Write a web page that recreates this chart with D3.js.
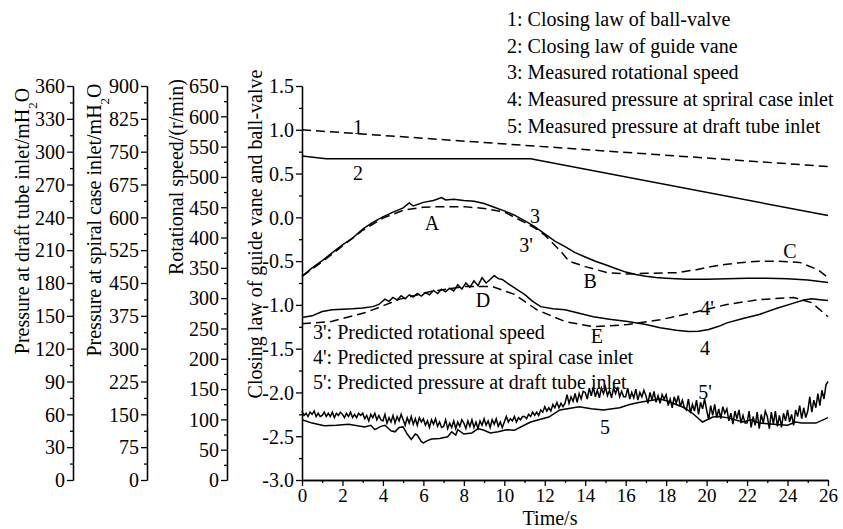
<!DOCTYPE html>
<html>
<head>
<meta charset="utf-8">
<script src="https://cdn.jsdelivr.net/npm/d3@7"></script>
<style>
  body { margin: 0; background: #fff; }
  svg { font-family: "Liberation Serif", "Times New Roman", serif; }
  .axis path, .axis line { stroke: #000; stroke-width: 1.3; }
  .axis text { font-family: "Liberation Serif", serif; font-size: 20px; fill: #000; }
  .xaxis text { font-size: 19px; }
  .curve { fill: none; stroke: #000; stroke-width: 1.5; }
  .dashed { stroke-dasharray: 9 5; }
  .lbl { font-size: 20px; fill: #000; }
</style>
</head>
<body>
<div id="chart"></div>
<script>
// Declare constants
const FRAME_WIDTH = 843;
const FRAME_HEIGHT = 529;
const PLOT = {left: 302, right: 828, top: 86, bottom: 480};

// x axis (time, s)
const TIME_DOMAIN = [0, 26];
const TIME_TICKS = [0, 2, 4, 6, 8, 10, 12, 14, 16, 18, 20, 22, 24, 26];

// y axes: [min, max, major step]
const CLOSING_AXIS = [-3, 1.5, 0.5];
const SPEED_AXIS = [0, 650, 50];
const SPIRAL_AXIS = [0, 900, 75];
const DRAFT_AXIS = [0, 360, 30];

// 1: closing law of ball-valve, 2: closing law of guide vane  [t, value]
const BALL_VALVE = [[0, 1.0], [26, 0.58]];
const GUIDE_VANE = [[0, 0.70], [1.2, 0.67], [11.3, 0.67], [26, 0.02]];

// 3 / 3': rotational speed, r/min  [t, value]
const SPEED_MEASURED = [[0, 336], [0.5, 350], [1, 362], [1.5, 375], [2, 388], [2.5, 399], [3, 414],
  [3.5, 425], [4, 434], [4.5, 442], [5, 449], [5.3, 457], [5.5, 452], [6, 458], [6.5, 461],
  [6.9, 466], [7.1, 462], [7.5, 463], [8, 461], [8.5, 460], [9, 456], [9.5, 450], [10, 444],
  [10.5, 437], [11, 428], [11.5, 418], [12, 406], [12.5, 394], [13, 385], [13.5, 375],
  [14, 368], [14.5, 361], [15, 355], [15.5, 349], [16, 343], [16.5, 339], [17, 336],
  [17.5, 334], [18, 333], [19, 331], [20, 331], [21, 332], [22, 333], [23, 333], [24, 332],
  [25, 330], [26, 326]];
const SPEED_PREDICTED = [[0, 336], [1, 360], [2, 386], [3, 412], [4, 432], [5, 445], [6, 450],
  [7, 451], [8, 451], [9, 448], [10, 442], [11, 425], [11.5, 416], [12, 404], [12.8, 377],
  [13.2, 361], [14, 352], [15.1, 342], [16, 340], [17, 341], [18.5, 342], [19.5, 347],
  [20.2, 352], [21, 356], [21.8, 359], [22.6, 361], [23.5, 361], [24.6, 359], [25.5, 347],
  [26, 334]];

// 4 / 4': pressure at spiral case inlet, mH2O  [t, value]
const SPIRAL_MEASURED = [[0, 371], [0.5, 375], [1, 385], [1.5, 389], [2, 390], [2.5, 391],
  [3, 393], [3.5, 396], [3.8, 401], [4.1, 413], [4.3, 408], [4.5, 417], [4.7, 411], [4.9, 421],
  [5.1, 414], [5.3, 423], [5.5, 418], [5.7, 426], [5.9, 420], [6.1, 428], [6.3, 423],
  [6.5, 433], [6.7, 426], [6.9, 436], [7.1, 430], [7.3, 438], [7.5, 432], [7.7, 446],
  [7.9, 436], [8.1, 450], [8.3, 440], [8.5, 455], [8.7, 444], [8.9, 462], [9.1, 450],
  [9.3, 458], [9.5, 467], [9.7, 460], [9.9, 458], [10.2, 448], [10.6, 436], [11, 424],
  [11.4, 408], [11.8, 396], [12.4, 391], [13, 389], [13.7, 381], [14.4, 373], [15.2, 367],
  [16.1, 362], [17, 355], [17.7, 348], [18.5, 342], [19.1, 339], [19.6, 340], [20.1, 344],
  [20.6, 351], [21, 359], [21.8, 369], [22.6, 378], [23.4, 391], [24.3, 404], [24.8, 411],
  [25.2, 414], [25.6, 412], [26, 410]];
const SPIRAL_PREDICTED = [[0, 357], [1.45, 362], [3.1, 382], [3.9, 396], [4.75, 412],
  [6.4, 431], [8.1, 442], [9.4, 442], [10.5, 424], [11.6, 389], [13, 362], [14.4, 350],
  [16.1, 355], [17.7, 366], [19.3, 382], [21, 401], [22.6, 412], [24.3, 417], [25.2, 405],
  [26, 373]];

// 5 / 5': pressure at draft tube inlet, mH2O
const DRAFT_MEASURED = [[0, 55], [0.5, 52], [1.1, 49.5], [1.7, 50], [2.3, 51], [3.1, 48.5],
  [3.4, 50], [3.6, 46], [3.9, 49], [4.1, 50], [4.4, 45], [4.6, 44], [4.8, 48], [5, 48.5],
  [5.2, 42], [5.4, 37], [5.6, 42], [5.7, 41], [5.9, 35], [6, 34], [6.2, 36], [6.4, 37.5],
  [6.8, 38], [7.2, 39.5], [7.4, 44], [7.6, 41], [7.7, 46], [8, 42], [8.4, 43], [8.7, 47],
  [9, 45.5], [9.3, 43], [9.7, 44], [10.1, 46], [10.5, 45.5], [11.3, 53], [12.2, 57.5],
  [12.75, 64], [13.7, 67], [14.3, 65], [14.9, 64], [15.7, 66], [16.2, 69], [16.7, 71],
  [17.7, 74], [18.1, 72], [18.5, 69], [18.9, 66], [19.3, 61], [19.8, 53], [20.3, 57.5],
  [20.6, 58], [21, 57], [21.8, 53], [22.2, 55], [22.6, 52], [23.3, 51], [24, 50],
  [24.4, 53], [24.7, 52], [25.4, 52], [26, 57]];
// predicted draft tube pressure, sampled every 0.1 s from t = 0
const DRAFT_PRED_STEP = 0.1;
const DRAFT_PREDICTED = [
  63, 59, 61, 58, 62, 60, 63, 58, 61, 58,
  59, 62, 58, 61, 58, 62, 57, 61, 59, 62,
  60, 57, 61, 58, 62, 57, 60, 57, 61, 59,
  61, 56, 59, 54, 60, 57, 61, 55, 59, 55,
  54, 60, 52, 57, 53, 59, 52, 58, 54, 60,
  55, 50, 57, 52, 58, 51, 56, 50, 57, 53,
  56, 50, 54, 48, 55, 51, 56, 49, 53, 48,
  49, 55, 47, 52, 48, 54, 47, 53, 49, 55,
  52, 47, 54, 49, 55, 48, 53, 47, 54, 50,
  56, 50, 54, 48, 55, 51, 56, 49, 53, 48,
  53, 58, 53, 56, 54, 58, 53, 57, 55, 58,
  58, 56, 60, 58, 62, 59, 62, 59, 64, 62,
  67, 63, 66, 63, 69, 66, 71, 66, 70, 67,
  70, 78, 70, 76, 72, 79, 71, 79, 74, 81,
  80, 74, 84, 77, 85, 76, 82, 75, 84, 79,
  85, 77, 82, 75, 84, 79, 85, 76, 81, 76,
  76, 84, 74, 80, 75, 83, 73, 80, 76, 82,
  77, 70, 80, 73, 81, 71, 77, 70, 78, 74,
  78, 68, 74, 66, 76, 70, 77, 67, 73, 66,
  64, 74, 61, 69, 63, 73, 60, 71, 65, 74,
  64, 55, 68, 59, 69, 57, 65, 56, 67, 61,
  65, 54, 61, 51, 63, 56, 64, 52, 59, 52,
  52, 63, 48, 58, 50, 62, 47, 60, 52, 63,
  58, 47, 62, 51, 63, 49, 59, 48, 61, 54,
  64, 53, 60, 50, 64, 58, 68, 56, 66, 57,
  63, 76, 62, 73, 66, 79, 68, 82, 74, 87,
  90];

// curve labels, placed in (t, closing-law axis) units
const CURVE_LABELS = [
  {text: "1", t: 2.77, v: 1.03}, {text: "2", t: 2.77, v: 0.51},
  {text: "A", t: 6.43, v: -0.06}, {text: "3", t: 11.52, v: 0.01},
  {text: "3'", t: 11.07, v: -0.32}, {text: "B", t: 14.24, v: -0.73},
  {text: "C", t: 24.12, v: -0.39}, {text: "D", t: 8.95, v: -0.94},
  {text: "4'", t: 20.02, v: -1.03}, {text: "E", t: 14.58, v: -1.36},
  {text: "4", t: 19.92, v: -1.49}, {text: "5'", t: 19.92, v: -1.99},
  {text: "5", t: 14.98, v: -2.40}];

const LEGEND_TOP = ["1: Closing law of ball-valve", "2: Closing law of guide vane",
  "3: Measured rotational speed", "4: Measured pressure at spriral case inlet",
  "5: Measured pressure at draft tube inlet"];
const LEGEND_INNER = ["3': Predicted rotational speed", "4': Predicted pressure at spiral case inlet",
  "5': Predicted pressure at draft tube inlet"];

// Frame
const FRAME = d3.select("#chart")
  .append("svg")
    .attr("width", FRAME_WIDTH)
    .attr("height", FRAME_HEIGHT);

// scales
const X_SCALE = d3.scaleLinear().domain(TIME_DOMAIN).range([PLOT.left, PLOT.right]);
function yScale(ax) {
  return d3.scaleLinear().domain([ax[0], ax[1]]).range([PLOT.bottom, PLOT.top]);
}
const Y_CLOSING = yScale(CLOSING_AXIS);
const Y_SPEED = yScale(SPEED_AXIS);
const Y_SPIRAL = yScale(SPIRAL_AXIS);
const Y_DRAFT = yScale(DRAFT_AXIS);

function fmt(decimals) {
  return (d) => d.toFixed(decimals).replace("\u2212", "-");
}

// one vertical axis: major ticks with labels + minor ticks in between
function leftAxis(xPos, scale, ax, decimals) {
  const major = d3.range(ax[0], ax[1] + ax[2] / 2, ax[2]);
  const minor = d3.range(ax[0] + ax[2] / 2, ax[1], ax[2]);
  const g = FRAME.append("g")
    .attr("class", "axis")
    .attr("transform", "translate(" + xPos + ",0)");
  g.append("g")
    .call(d3.axisLeft(scale).tickValues(minor).tickSize(3).tickSizeOuter(0).tickFormat(""));
  g.append("g")
    .call(d3.axisLeft(scale).tickValues(major).tickSize(6).tickSizeOuter(0)
      .tickPadding(2).tickFormat(fmt(decimals)))
    .attr("font-size", null).attr("font-family", null);
  g.selectAll("text").attr("dy", "0.34em");
}

leftAxis(73, Y_DRAFT, DRAFT_AXIS, 0);
leftAxis(147, Y_SPIRAL, SPIRAL_AXIS, 0);
leftAxis(227, Y_SPEED, SPEED_AXIS, 0);
leftAxis(PLOT.left, Y_CLOSING, CLOSING_AXIS, 1);

// x axis
const xg = FRAME.append("g")
  .attr("class", "axis xaxis")
  .attr("transform", "translate(0," + PLOT.bottom + ")");
xg.append("g")
  .call(d3.axisBottom(X_SCALE).tickValues(d3.range(1, 26, 2)).tickSize(3).tickSizeOuter(0).tickFormat(""));
xg.append("g")
  .call(d3.axisBottom(X_SCALE).tickValues(TIME_TICKS).tickSize(6).tickSizeOuter(0).tickPadding(3))
  .attr("font-size", null).attr("font-family", null);

// axis titles
function title(x, y, parts) {
  const t = FRAME.append("text")
    .attr("class", "lbl")
    .attr("text-anchor", "middle")
    .attr("transform", "translate(" + x + "," + y + ") rotate(-90)");
  parts.forEach((p) => {
    const s = t.append("tspan").text(p.text);
    if (p.sub) s.attr("baseline-shift", "sub").attr("font-size", "13px");
  });
}
title(29, 221, [{text: "Pressure at draft tube inlet/mH"}, {text: "2", sub: true}, {text: "O"}]);
title(101, 220, [{text: "Pressure at spiral case inlet/mH"}, {text: "2", sub: true}, {text: "O"}]);
title(183, 177, [{text: "Rotational speed/(r/min)"}]);
title(262, 234, [{text: "Closing law of guide vane and ball-valve"}]);

FRAME.append("text")
  .attr("class", "lbl")
  .attr("text-anchor", "middle")
  .attr("font-size", "19px")
  .attr("x", 550)
  .attr("y", 524.5)
  .text("Time/s");

// curves
function drawCurve(data, scale, dashed, width) {
  const line = d3.line().x((d) => X_SCALE(d[0])).y((d) => scale(d[1]));
  FRAME.append("path")
    .datum(data)
    .attr("class", dashed ? "curve dashed" : "curve")
    .attr("stroke-width", width || 1.5)
    .attr("d", line);
}

drawCurve(BALL_VALVE, Y_CLOSING, true);
drawCurve(GUIDE_VANE, Y_CLOSING, false);
drawCurve(SPEED_MEASURED, Y_SPEED, false);
drawCurve(SPEED_PREDICTED, Y_SPEED, true);
drawCurve(SPIRAL_MEASURED, Y_SPIRAL, false);
drawCurve(SPIRAL_PREDICTED, Y_SPIRAL, true);
drawCurve(DRAFT_MEASURED, Y_DRAFT, false);
drawCurve(DRAFT_PREDICTED.map((v, i) => [i * DRAFT_PRED_STEP, v]), Y_DRAFT, false, 1.7);

// curve labels
FRAME.selectAll(".curveLabel")
  .data(CURVE_LABELS)
  .enter()
  .append("text")
    .attr("class", "lbl")
    .attr("text-anchor", "middle")
    .attr("dy", "0.35em")
    .attr("x", (d) => X_SCALE(d.t))
    .attr("y", (d) => Y_CLOSING(d.v))
    .text((d) => d.text);

// legends
FRAME.selectAll(".legTop")
  .data(LEGEND_TOP)
  .enter()
  .append("text")
    .attr("class", "lbl")
    .attr("x", 507)
    .attr("y", (d, i) => 19 + i * 26.7)
    .attr("dy", "0.35em")
    .text((d) => d);

FRAME.selectAll(".legInner")
  .data(LEGEND_INNER)
  .enter()
  .append("text")
    .attr("class", "lbl")
    .attr("x", 313)
    .attr("y", (d, i) => 332 + i * 25)
    .attr("dy", "0.35em")
    .text((d) => d);
</script>
</body>
</html>
